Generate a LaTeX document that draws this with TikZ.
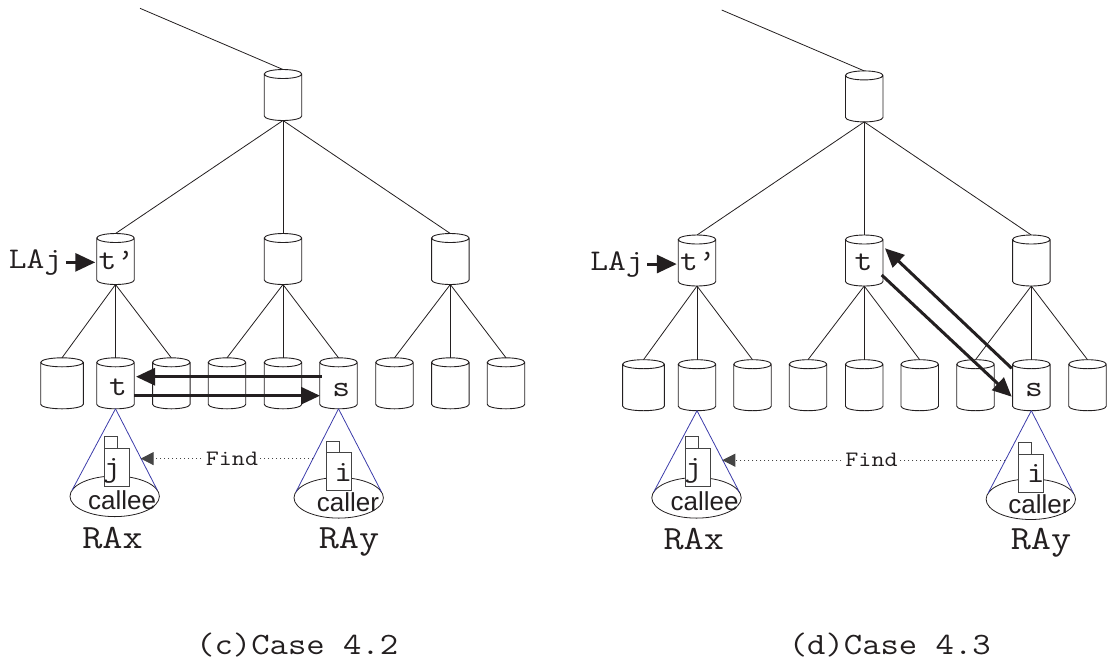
\documentclass[tikz,border=0pt]{standalone}
\usepackage{fontspec}
\usetikzlibrary{arrows.meta,shapes.geometric,calc}
\newfontfamily\cmono{Latin Modern Mono}[FakeStretch=1.15]
\newfontfamily\csans{Liberation Sans}
\definecolor{ink}{HTML}{231F20}
\definecolor{conecol}{RGB}{60,60,170}
\definecolor{docgray}{HTML}{444444}
\newcommand\monofs[1]{\cmono\fontsize{#1}{#1}\selectfont}
\newcommand\sansfs[1]{\csans\fontsize{#1}{#1}\selectfont}

\tikzset{
  cylnode/.style={rectangle, inner sep=0pt, outer sep=0pt, minimum height=51pt, minimum width=37.5pt},
  cylline/.style={line width=0.9pt, draw=ink},
  treeline/.style={line width=0.8pt, draw=ink},
  bigarrow/.style={line width=3pt, draw=ink, -{Triangle[length=19pt,width=17pt]}},
  laarrow/.style={line width=3pt, draw=ink, -{Triangle[length=20pt,width=18pt]}, shorten <=3.4pt, shorten >=1.5pt},
  monolbl/.style={inner sep=0pt, anchor=base, text=ink, font=\monofs{30}},
  bigmono/.style={inner sep=0pt, anchor=base, text=ink, font=\monofs{34}},
  captionlbl/.style={inner sep=0pt, anchor=base, text=ink, font=\monofs{31}},
  sanslbl/.style={inner sep=0pt, anchor=base, text=ink, font=\sansfs{26}},
  coneell/.style={ellipse, draw=ink, line width=0.8pt, inner sep=0pt, outer sep=0pt, minimum width=89.4pt, minimum height=40.6pt},
  coneline/.style={draw=conecol, line width=0.8pt},
  docbox/.style={rectangle, draw=docgray, fill=white, line width=0.8pt, inner sep=0pt, outer sep=0pt, minimum width=25pt, minimum height=38pt},
  doctab/.style={rectangle, draw=docgray, fill=white, line width=0.8pt, inner sep=0pt, outer sep=0pt, minimum width=13pt, minimum height=11.5pt, anchor=south west},
  findline/.style={draw=docgray, line width=0.8pt, dash pattern=on 1pt off 3pt, -{Triangle[length=13pt,width=13pt]}},
  findlbl/.style={fill=white, inner sep=1.5pt, text=ink, font=\monofs{22}}
}

% a database cylinder: [width]{name}{x}{y}, y measured downwards
\newcommand\dbcyl[4][37.5]{%
  \node[cylnode, minimum width=#1pt] (#2) at (#3,-#4) {};
  \draw[cylline] ([yshift=-4.5pt]#2.north west) -- ([yshift=4.5pt]#2.south west)
    arc[start angle=180, end angle=360, x radius=#1pt/2, y radius=4.5pt]
    -- ([yshift=-4.5pt]#2.north east)
    arc[start angle=0, end angle=180, x radius=#1pt/2, y radius=4.5pt]
    arc[start angle=180, end angle=360, x radius=#1pt/2, y radius=4.5pt];
}

\begin{document}
\begin{tikzpicture}[x=1pt,y=1pt]
\useasboundingbox (0,0) rectangle (1107,-665);

% ---------------- panel (c) ----------------
\coordinate (upL) at (140,-8.3);
\dbcyl{rootL}{283}{95}
\dbcyl{aL}{115.5}{259}
\dbcyl{bL}{283}{259}
\dbcyl{cL}{450.3}{259}
\dbcyl[42.6]{L1}{62}{383.3}
\dbcyl{L2}{115.5}{383.3}
\dbcyl{L3}{171.3}{383.3}
\dbcyl{L4}{227}{383.3}
\dbcyl{L5}{283}{383.3}
\dbcyl{L6}{338.5}{383.3}
\dbcyl{L7}{394.5}{383.3}
\dbcyl{L8}{450.3}{383.3}
\dbcyl{L9}{506}{383.3}
\draw[treeline] (upL) -- (rootL.north);
\foreach \c in {aL,bL,cL} \draw[treeline] (rootL.south) -- (\c.north);
\foreach \c in {L1,L2,L3} \draw[treeline] (aL.south) -- (\c.north);
\foreach \c in {L4,L5,L6} \draw[treeline] (bL.south) -- (\c.north);
\foreach \c in {L7,L8,L9} \draw[treeline] (cL.south) -- (\c.north);

\node[monolbl] (LAjL) at (35.5,-268.3) {LAj};
\node[monolbl] (tpL) at (116.5,-269.3) {t’};
\node[monolbl] (tL) at (118,-395.7) {t};
\node[monolbl] (sL) at (341.3,-396.2) {s};
\draw[laarrow] (LAjL.east) -- (LAjL.east -| aL.west);

\draw[bigarrow] ([shift={(2,6.6)}]L6.west) -- ([shift={(1.75,6.6)}]L2.east);
\draw[bigarrow] ([shift={(0,-12.4)}]L2.east) -- ([shift={(0.25,-12.4)}]L6.west);

\node[coneell] (eXL) at (114.7,-496.3) {};
\node[coneell] (eYL) at (338.7,-497.8) {};
\draw[coneline] (L2.south) -- (eXL.172);
\draw[coneline] (L2.south) -- (eXL.8) coordinate[pos=0.6] (fTipL);
\draw[coneline] (L6.south) -- (eYL.8);
\draw[coneline] (L6.south) -- (eYL.172) coordinate[pos=0.6] (fTailL);

\node[docbox] (dXL) at (116.7,-467.2) {};
\node[doctab] (tXL) at (dXL.north west) {};
\node[monolbl] (jL) at (111.7,-476.3) {j};
\node[docbox] (dYL) at (338.5,-471.7) {};
\node[doctab] (tYL) at (dYL.north west) {};
\node[monolbl] (iL) at (343.3,-481) {i};

\node[sanslbl] (calleeL) at (122.2,-509) {callee};
\node[sanslbl] (callerL) at (348,-511.7) {caller};
\node[bigmono] (RAxL) at (112.5,-548.3) {RAx};
\node[bigmono] (RAyL) at (349,-548.3) {RAy};

\draw[findline] (fTailL) -- node[findlbl, pos=0.47] (findL) {Find} (fTipL |- fTailL);

\node[captionlbl] (capL) at (297.2,-654) {(c)Case 4.2};

% ---------------- panel (d) ----------------
\coordinate (upR) at (721.7,-10);
\dbcyl{rootR}{864.2}{96.4}
\dbcyl{aR}{697}{260.5}
\dbcyl{bR}{864.2}{260.5}
\dbcyl{cR}{1031.3}{260.5}
\dbcyl[41.7]{R1}{643.5}{385.2}
\dbcyl{R2}{697}{385.2}
\dbcyl{R3}{752.5}{385.2}
\dbcyl{R4}{808}{385.2}
\dbcyl{R5}{864.2}{385.2}
\dbcyl{R6}{919.7}{385.2}
\dbcyl{R7}{975.5}{385.2}
\dbcyl{R8}{1031.3}{385.2}
\dbcyl{R9}{1087.5}{385.2}
\draw[treeline] (upR) -- (rootR.north);
\foreach \c in {aR,bR,cR} \draw[treeline] (rootR.south) -- (\c.north);
\foreach \c in {R1,R2,R3} \draw[treeline] (aR.south) -- (\c.north);
\foreach \c in {R4,R5,R6} \draw[treeline] (bR.south) -- (\c.north);
\foreach \c in {R7,R8,R9} \draw[treeline] (cR.south) -- (\c.north);

\node[monolbl] (LAjR) at (617,-270) {LAj};
\node[monolbl] (tpR) at (698,-270) {t’};
\node[monolbl] (tR) at (863.5,-270) {t};
\node[monolbl] (sR) at (1034,-396.7) {s};
\draw[laarrow] (LAjR.east) -- (LAjR.east -| aR.west);

\draw[bigarrow] ([shift={(-0.85,16.9)}]R8.west) -- ([shift={(2,12.2)}]bR.east);
\draw[bigarrow] ([shift={(-1.25,-14.5)}]bR.east) -- ([shift={(-0.85,-11.5)}]R8.west);

\node[coneell] (eXR) at (696.5,-497.8) {};
\node[coneell] (eYR) at (1030.8,-499.2) {};
\draw[coneline] (R2.south) -- (eXR.172);
\draw[coneline] (R2.south) -- (eXR.8) coordinate[pos=0.6] (fTipR);
\draw[coneline] (R8.south) -- (eYR.8);
\draw[coneline] (R8.south) -- (eYR.172) coordinate[pos=0.6] (fTailR);

\node[docbox] (dXR) at (698.2,-467.2) {};
\node[doctab] (tXR) at (dXR.north west) {};
\node[monolbl] (jR) at (693.3,-476.3) {j};
\node[docbox] (dYR) at (1031.2,-473.2) {};
\node[doctab] (tYR) at (dYR.north west) {};
\node[monolbl] (iR) at (1035.8,-482.3) {i};

\node[sanslbl] (calleeR) at (704.5,-510) {callee};
\node[sanslbl] (callerR) at (1039.5,-513.3) {caller};
\node[bigmono] (RAxR) at (693.7,-549.3) {RAx};
\node[bigmono] (RAyR) at (1041,-549.3) {RAy};

\draw[findline] (fTailR) -- node[findlbl, pos=0.473] (findR) {Find} (fTipR |- fTailR);

\node[captionlbl] (capR) at (889.8,-654) {(d)Case 4.3};
\end{tikzpicture}
\end{document}
